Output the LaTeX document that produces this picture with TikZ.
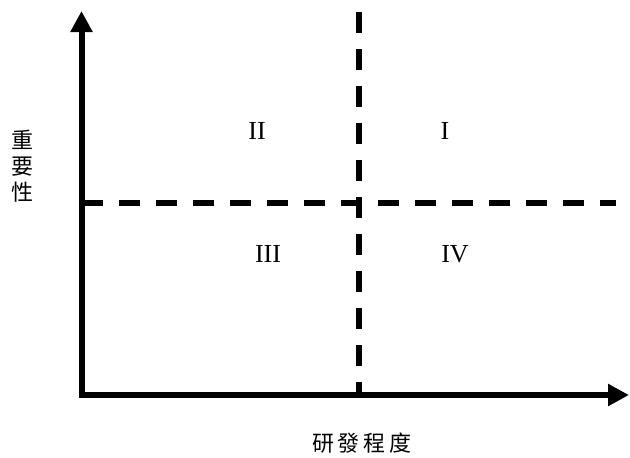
\documentclass[tikz,border=0pt]{standalone}
\usepackage{fontspec}
\setmainfont{Liberation Serif}
\newfontfamily\cjk{Noto Sans CJK TC}
\usetikzlibrary{arrows.meta}
\begin{document}
\begin{tikzpicture}[x=1pt,y=-1pt,
  axisline/.style={line width=6pt,-{Triangle[width=21pt,length=21pt]}},
  divline/.style={line width=5.5pt,dash pattern=on 21pt off 16pt},
  quad/.style={font=\fontsize{26}{28}\selectfont,inner sep=0pt},
  axlabel/.style={font=\cjk\fontsize{22}{25}\selectfont,inner sep=0pt,align=center}]
\useasboundingbox (0,0) rectangle (630,458);
\coordinate (o) at (81.5,395);
\coordinate (ytop) at (81.5,11);
\coordinate (xend) at (629,395);
\coordinate (vtop) at (359,12);
\coordinate (vbot) at (359,392);
\coordinate (hl) at (82,203);
\coordinate (hr) at (616,203);
\draw[divline] (vtop) -- (vbot);
\draw[divline] (hl) -- (hr);
\draw[axisline] ([yshift=3pt]o) -- (ytop);
\draw[axisline] ([xshift=-3pt]o) -- (xend);
\node[quad] (q2) at (257,131) {II};
\node[quad] (q1) at (445,131) {I};
\node[quad] (q3) at (268,254) {III};
\node[quad] (q4) at (455,254) {IV};
\node[axlabel] (ylab) at (23,166) {重\\[1pt]要\\[1pt]性};
\node[axlabel] (xlab) at (362,443) {研\hspace{4pt}發\hspace{4pt}程\hspace{4pt}度};
\end{tikzpicture}
\end{document}
